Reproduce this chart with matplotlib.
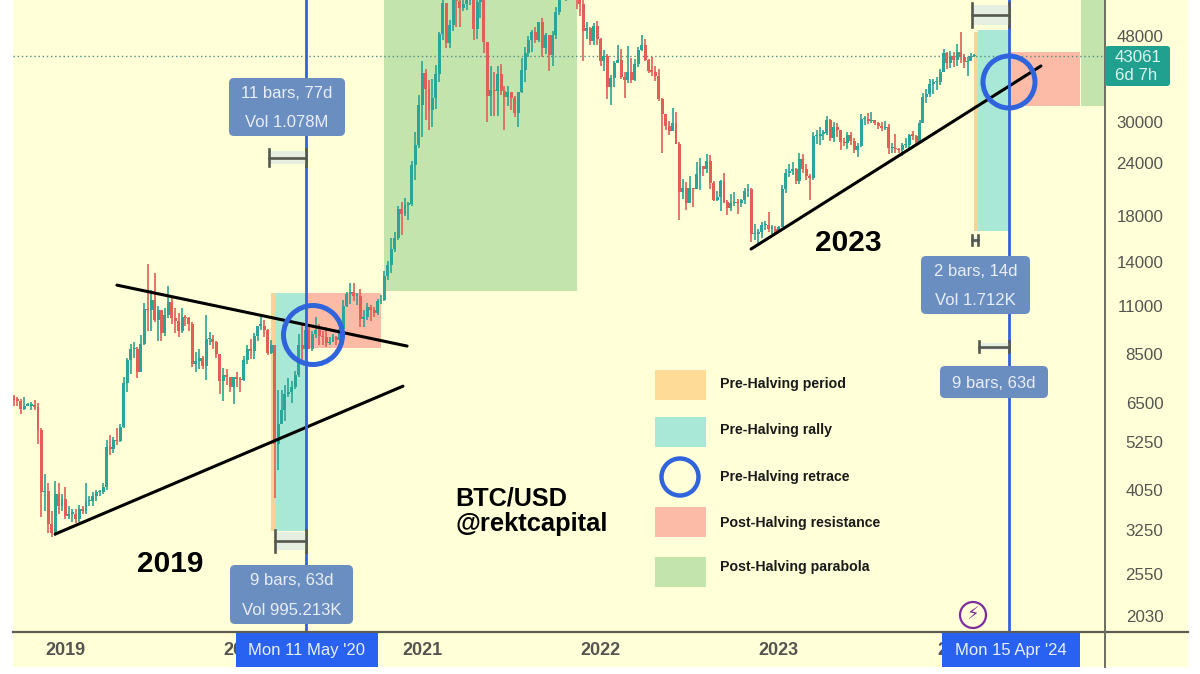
#!/usr/bin/env python
# BTC/USD weekly candles with halving cycle markup.
import matplotlib
matplotlib.use("Agg")
import matplotlib.pyplot as plt
from matplotlib.patches import Rectangle, FancyBboxPatch, Circle

plt.rcParams["font.family"] = ["Liberation Sans", "DejaVu Sans"]

first_open = 6710
# week index 0 is the week of 24 Sep 2018
closes = [
    6590, 6580, 6290, 6400, 6400, 6420, 6360, 5600, 4000,
    4020, 3350, 3200, 3950, 3700, 3850, 3500, 3550, 3550, 3450,
    3650, 3600, 3800, 3800, 3900, 3990, 3990, 4100, 5100, 5050,
    5300, 5280, 5700, 7250, 8200, 8700, 8730, 7680, 8950, 10850,
    10770, 11400, 10200, 10770, 9500, 10500, 11280, 10300, 10150, 9600,
    10400, 10300, 9990, 8050, 8150, 8300, 7950, 9200, 9200, 9050,
    8500, 7300, 7550, 7500, 7100, 7500, 7380, 7350, 8200, 8700,
    8600, 9350, 9900, 9900, 9650, 8530, 8900, 5200, 5800, 6250,
    6800, 6900, 7100, 7550, 8900, 8700, 9680, 8720, 9450, 9670, 9330,
    9300, 9000, 9060, 9300, 9160, 9700, 11000, 11750, 11900, 11650,
    11650, 10250, 10400, 10950, 10780, 10620, 11300, 11370, 13000, 13800,
    15000, 16000, 18700, 18200, 19150, 19250, 23800, 26500, 33000, 39200,
    36000, 32100, 34300, 39000, 48500, 57400, 46200, 51000, 59000, 58000,
    55800, 57000, 60000, 60000, 50000, 57800, 58300, 46400, 34700, 35700,
    35500, 39000, 35600, 34500, 35300, 34200, 31500, 35400, 39800, 43800,
    47000, 49000, 47000, 51800, 45000, 48300, 43200, 48200, 54700, 61500,
    60900, 61300, 63300, 65500, 58600, 57200, 49300, 50100, 46800, 50800,
    47300, 41800, 43100, 36300, 38200, 41400, 42200, 38400, 37700, 39400,
    37800, 41300, 44500, 45800, 42200, 39700, 39500, 38500, 34100, 31300,
    29400, 28600, 29900, 26600, 20500, 21000, 19300, 21000, 20800, 22600,
    23600, 23200, 24300, 21500, 19600, 20000, 21800, 19400, 18800, 19300,
    19400, 19300, 19600, 20600, 20900, 16300, 16300, 16500, 17100, 17100,
    16800, 16800, 16600, 16900, 20900, 22700, 23000, 23300, 21800, 24600,
    23200, 22400, 22100, 27800, 27900, 28200, 28300, 30300, 27600, 29200,
    28700, 26900, 26800, 28000, 27100, 25800, 26300, 30500, 30600, 30200,
    30300, 29800, 29350, 29000, 29300, 26000, 26000, 25900, 25800, 26500,
    26500, 28000, 27900, 26900, 29900, 34500, 35000, 37000, 37400, 37400,
    39500, 43800, 41400, 43000, 42100, 43900, 42800, 41600, 42000, 43000,
    43061,
]
highs = [
    6780, 6700, 6640, 6700, 6500, 6540, 6600, 6500, 5650,
    4400, 4200, 3600, 4240, 4200, 3950, 4100, 3700, 3650, 3650,
    3720, 3700, 4200, 3900, 4000, 4050, 4050, 4200, 5300, 5450,
    5400, 5650, 5800, 7500, 8300, 8950, 9070, 8800, 9400, 11200,
    13880, 12000, 13200, 11000, 10300, 10900, 12300, 11500, 10900, 10600,
    10900, 10500, 10400, 10100, 8550, 8700, 8400, 10500, 9550, 9400,
    9100, 8500, 7850, 7800, 7500, 7500, 7700, 7500, 8400, 8900,
    9200, 9500, 9900, 10500, 10200, 9700, 9150, 8200, 6950, 6950,
    7150, 7450, 7300, 7750, 9450, 10050, 9900, 9800, 9600, 10400, 10000,
    9600, 9800, 9300, 9480, 9350, 9800, 11400, 11900, 12480, 12480,
    11800, 12090, 10800, 11180, 11050, 10950, 11450, 11720, 13350, 14100,
    15950, 16500, 18950, 19450, 19900, 19420, 24300, 28400, 34800, 42000,
    40000, 37800, 38000, 40900, 49000, 58400, 57500, 52500, 61700, 60500,
    58400, 60000, 61200, 64800, 57500, 58400, 59500, 59600, 46500, 40800,
    39400, 40800, 41300, 36500, 36600, 35100, 34700, 35400, 42500, 45300,
    48100, 49700, 50500, 51900, 52900, 48800, 48200, 49200, 56100, 62900,
    67000, 63700, 64200, 69000, 66300, 59500, 59200, 51900, 50300, 51400,
    52100, 47500, 44400, 43500, 38900, 41900, 45800, 44800, 39500, 45400,
    42500, 42300, 45100, 48200, 47200, 42400, 42900, 40800, 40000, 34300,
    31400, 30200, 32400, 31700, 26900, 22000, 21600, 22400, 21000, 24200,
    24700, 23600, 25200, 25100, 21800, 20600, 21900, 22800, 19600, 20300,
    20500, 19700, 19700, 21000, 21400, 21000, 17200, 16800, 17400, 17500,
    18400, 17100, 17000, 17000, 21300, 23300, 23900, 24200, 23400, 25300,
    25200, 23900, 22600, 28500, 28800, 29200, 28800, 31000, 30500, 30000,
    29900, 28800, 27500, 28400, 28500, 27500, 26800, 31400, 31000, 31500,
    31800, 30400, 30000, 30000, 30200, 29700, 26800, 28100, 26100, 26800,
    27500, 28100, 28600, 28000, 30300, 35200, 35900, 38000, 38000, 38400,
    40200, 44700, 44000, 44300, 44000, 45900, 49000, 43600, 42800, 43800,
    43500,
]
lows = [
    6400, 6400, 6100, 6250, 6380, 6250, 6250, 5200, 3480,
    3600, 3200, 3130, 3150, 3550, 3600, 3450, 3450, 3400, 3380,
    3400, 3550, 3550, 3700, 3700, 3800, 3900, 3950, 4050, 4900,
    4950, 5150, 5250, 5650, 6900, 7600, 8300, 7450, 7850, 8900,
    9600, 9600, 10100, 9100, 9100, 9350, 10300, 10000, 9500, 9300,
    9500, 9900, 9600, 7900, 7700, 7800, 7800, 7350, 8900, 8700,
    8300, 6800, 6550, 7150, 6900, 6450, 7100, 6900, 7300, 8050,
    8250, 8250, 9100, 9650, 9300, 8450, 8500, 3870, 4500, 5800,
    5900, 6700, 6500, 7000, 7500, 8200, 8100, 8700, 8640, 9250, 8900,
    8900, 8800, 8900, 9050, 8900, 9100, 9650, 10950, 11150, 11350,
    11100, 9800, 9850, 10200, 10130, 10400, 10500, 11150, 11300, 12700,
    13200, 14800, 15800, 16200, 18000, 17600, 19000, 21900, 26000, 27700,
    30400, 28800, 29200, 32300, 37400, 47000, 44900, 45000, 49300, 50300,
    50400, 54900, 55400, 56900, 47000, 47100, 52900, 43800, 30000, 31000,
    31100, 31000, 34800, 28800, 32700, 32100, 30900, 29300, 35100, 37300,
    42800, 43900, 46300, 46500, 42800, 43400, 39600, 40700, 47100, 53900,
    59500, 58000, 59500, 62300, 55700, 53500, 42000, 47300, 45600, 45600,
    45600, 40700, 39700, 34000, 32900, 36300, 41700, 38000, 34300, 37200,
    37200, 37600, 40500, 44300, 42000, 39200, 38600, 37600, 33700, 25400,
    28700, 28000, 29300, 26600, 17600, 19700, 18600, 19300, 18900, 20800,
    20700, 22400, 22700, 20800, 19500, 19550, 18500, 19300, 18100, 18500,
    19000, 18200, 18900, 19200, 20000, 15600, 15800, 15500, 16000, 16700,
    16500, 16300, 16300, 16500, 17100, 20400, 22300, 22500, 21400, 21400,
    22800, 21900, 19600, 21900, 26600, 26500, 27200, 28000, 27100, 26900,
    27700, 25800, 26300, 25900, 26500, 25400, 24800, 26200, 29500, 29700,
    29900, 29600, 28900, 28600, 28700, 25200, 25400, 25400, 25300, 24900,
    26000, 26000, 27200, 26600, 26900, 29800, 33400, 34500, 35000, 35700,
    36800, 39500, 40200, 40300, 40600, 40800, 41500, 40300, 38500, 41800,
    42800,
]
price_ticks = [48000, 30000, 24000, 18000, 14000, 11000, 8500, 6500, 5250, 4050, 3250, 2550, 2030]
year_labels = ["2019", "2020", "2021", "2022", "2023", "2024"]
year_weeks = [15, 67, 119, 171, 223, 275]
halving_weeks = [85, 290]
last_price = 43061

BG = "#FFFFD8"
UP = "#2BA597"
DOWN = "#E25F58"
ORANGE = "#FFDB98"
TEAL = "#A9E8D7"
SALMON = "#FBBBA6"
GREEN = "#C3E4AC"
BLUE = "#3064DC"
BUBBLE = "#6B8EC1"
GREY = "#555550"

fig = plt.figure(figsize=(12, 6.74), dpi=100, facecolor="white")
fig.add_artist(Rectangle((13 / 1200, 7 / 674), 1175 / 1200, 667 / 674, transform=fig.transFigure,
                         facecolor=BG, edgecolor="none"))

ax = fig.add_axes([13 / 1200, 42 / 674, 1092 / 1200, 632 / 674], zorder=1)
ax.set_facecolor(BG)
ax.set_yscale("log")
ax.set_xlim(-0.29, 318.08)
ax.set_ylim(1863, 58410)
for s in ax.spines.values():
    s.set_visible(False)

# cycle boxes, in weeks and dollars
def box(w0, w1, p0, p1, color):
    ax.add_patch(Rectangle((w0, p0), w1 - w0, p1 - p0, facecolor=color, edgecolor="none", zorder=1))

box(75, 76, 3230, 11820, "#F5D597")
box(76, 85, 3230, 11820, TEAL)
box(85, 107, 8760, 11820, SALMON)
box(108, 164, 11950, 70000, GREEN)
box(280, 281, 16580, 49000, "#F5D597")
box(281, 290, 16580, 49600, TEAL)
box(290, 310.8, 32770, 44000, SALMON)
box(311, 319, 32770, 70000, GREEN)

# candles
weeks = list(range(len(closes)))
opens = [first_open] + closes[:-1]
colors = [UP if c >= o else DOWN for o, c in zip(opens, closes)]
ax.vlines(weeks, lows, highs, colors=colors, linewidth=1.2, zorder=2)
ax.bar(weeks, [max(abs(c - o), c * 0.007) for o, c in zip(opens, closes)],
       bottom=[min(o, c) for o, c in zip(opens, closes)], width=0.86, color=colors, zorder=3)

ax.axhline(last_price, color="#4F8F86", linewidth=1, linestyle=(0, (1, 2)), zorder=2)

# trendlines
for w, p in [([12, 113.4], [3177, 7116]), ([30, 114.6], [12345, 8855]), ([214.9, 299.4], [15030, 40760])]:
    ax.plot(w, p, color="black", linewidth=2.2, zorder=4, solid_capstyle="round")

for w in halving_weeks:
    ax.axvline(w, color=BLUE, linewidth=2.0, zorder=5)

ax.yaxis.tick_right()
ax.set_yticks(price_ticks)
ax.set_yticklabels([str(p) for p in price_ticks], fontsize=12.2, color=GREY, ha="right")
ax.minorticks_off()
ax.tick_params(axis="y", length=0, pad=42)
ax.set_xticks(year_weeks)
ax.set_xticklabels(year_labels, fontsize=13, color=GREY, fontweight="bold")
ax.tick_params(axis="x", length=0, pad=7)

# overlay in image pixels
ov = fig.add_axes([0, 0, 1, 1], zorder=2)
ov.set_xlim(0, 1200)
ov.set_ylim(674, 0)
ov.axis("off")

ov.plot([13, 1188], [632, 632], color="#5C5C50", linewidth=1.6)
ov.plot([1105, 1105], [0, 667], color="#6E6E60", linewidth=1.4)

def bubble(x0, y0, x1, y1, lines):
    ov.add_patch(FancyBboxPatch((x0 + 5, y0 + 5), x1 - x0 - 10, y1 - y0 - 10, boxstyle="round,pad=5,rounding_size=5",
                                facecolor=BUBBLE, edgecolor="none", zorder=6))
    h = (y1 - y0) / len(lines)
    for i, t in enumerate(lines):
        ov.text((x0 + x1) / 2, y0 + h * (i + 0.5) + 1, t, color="#E9EEF6", fontsize=12, ha="center", va="center", zorder=7)

bubble(229, 78, 345, 136, ["11 bars, 77d", "Vol 1.078M"])
bubble(921, 256, 1030, 314, ["2 bars, 14d", "Vol 1.712K"])
bubble(940, 366, 1048, 398, ["9 bars, 63d"])
bubble(230, 565, 353, 624, ["9 bars, 63d", "Vol 995.213K"])

def bracket(x0, x1, y0, y1):
    ov.add_patch(Rectangle((x0, y0 + 2), x1 - x0, y1 - y0 - 4, facecolor="#E6EEE2", edgecolor="none", zorder=3))
    ym = (y0 + y1) / 2
    ov.plot([x0, x1], [ym, ym], color="#55584F", linewidth=1.9, zorder=4)
    ov.plot([x0, x0], [y0, y1], color="#55584F", linewidth=1.9, zorder=4)
    ov.plot([x1, x1], [y0, y1], color="#55584F", linewidth=1.9, zorder=4)

bracket(269, 306, 149, 166)
bracket(275, 306, 530, 552)
bracket(972, 1009, 3, 27)
bracket(972, 978, 235, 245)
bracket(979, 1009, 341, 352)

for cx, cy, r in [(313, 335, 29.5), (1009, 82, 26)]:
    ov.add_patch(Circle((cx, cy), r, facecolor="none", edgecolor=BLUE, linewidth=3.6, zorder=8))

# date flags on the time axis
for x0, x1, t in [(236, 378, "Mon 11 May '20"), (942, 1080, "Mon 15 Apr '24")]:
    ov.add_patch(Rectangle((x0, 633), x1 - x0, 34, facecolor="#2962F0", edgecolor="none", zorder=6))
    ov.text((x0 + x1) / 2, 650, t, color="#EAF0FF", fontsize=12, ha="center", va="center", zorder=7)

# last price flag
ov.add_patch(FancyBboxPatch((1107, 48), 61, 36, boxstyle="round,pad=2,rounding_size=3",
                            facecolor="#22A08F", edgecolor="none", zorder=6))
ov.text(1115, 57, str(last_price), color="#DDF3EE", fontsize=12.2, va="center", zorder=7)
ov.text(1115, 75, "6d 7h", color="#DDF3EE", fontsize=12.2, va="center", zorder=7)

# legend
legend_rows = [("Pre-Halving period", ORANGE, 370, 384), ("Pre-Halving rally", TEAL, 417, 430),
               ("Pre-Halving retrace", None, 0, 477), ("Post-Halving resistance", SALMON, 507, 523),
               ("Post-Halving parabola", GREEN, 557, 567)]
for label, color, top, ty in legend_rows:
    if color:
        ov.add_patch(Rectangle((655, top), 51, 30, facecolor=color, edgecolor="none"))
    ov.text(720, ty, label, fontsize=10.2, fontweight="bold", color="#1A1A1A", va="center")
ov.add_patch(Circle((680, 477), 18.5, facecolor="none", edgecolor=BLUE, linewidth=3.2))

ov.text(170, 564, "2019", fontsize=21.5, fontweight="bold", color="black", ha="center", va="center")
ov.text(848.5, 243, "2023", fontsize=21.5, fontweight="bold", color="black", ha="center", va="center")
ov.text(455.5, 499, "BTC/USD", fontsize=18.2, fontweight="bold", color="black", va="center")
ov.text(455.5, 524, "@rektcapital", fontsize=18.4, fontweight="bold", color="black", va="center")

ov.add_patch(Circle((973, 615), 13, facecolor="none", edgecolor="#7B2D9E", linewidth=1.6))
ov.text(973, 615, "\u26a1", fontsize=13, color="#7B2D9E", ha="center", va="center", family="DejaVu Sans")

fig.savefig("out.png", dpi=100)
plt.close()
